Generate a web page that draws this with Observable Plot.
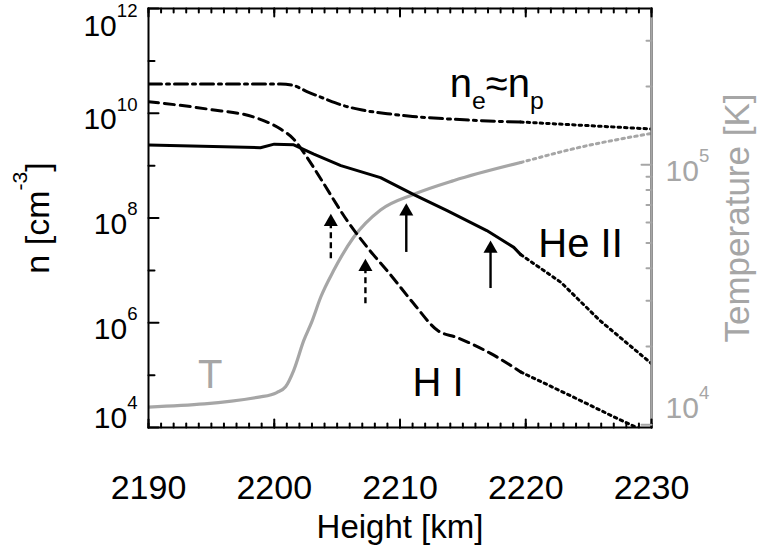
<!DOCTYPE html>
<html>
<head>
<meta charset="utf-8">
<script src="https://cdn.jsdelivr.net/npm/d3@7"></script>
<script src="https://cdn.jsdelivr.net/npm/@observablehq/plot@0.6"></script>
<style>
  body { margin: 0; background: #fff; }
  svg { display: block; }
</style>
</head>
<body>
<div id="chart"></div>
<script>
// ---------------- data ----------------
// electron density n_e ≈ n_p  [cm^-3]
const heightNe  = [2190, 2200.5, 2201.5, 2202.6, 2204, 2205.3, 2207, 2209, 2211, 2213.8, 2216.5, 2219.6, 2225, 2230];
const densityNe = [3.6e10, 3.6e10, 3.4e10, 2.6e10, 1.9e10, 1.45e10, 1.15e10, 9.8e9, 8.7e9, 7.8e9, 7.2e9, 6.8e9, 5.8e9, 5.0e9];
// neutral hydrogen H I
const heightHI  = [2190, 2194.7, 2198.6, 2200.5, 2201.55, 2202.6, 2203.8, 2205.8, 2207.4, 2209.2, 2211.1, 2213.0, 2214.55, 2217.2, 2219.6, 2223.6, 2227.5, 2230];
const densityHI = [1.66e10, 1.2e10, 8.1e9, 5.0e9, 3.2e9, 1.45e9, 5.1e8, 8.9e7, 2.75e7, 8.5e6, 2.3e6, 7.1e5, 5.2e5, 2.6e5, 1.15e5, 4.0e4, 1.4e4, 7.4e3];
// He II
const heightHeII  = [2190, 2198.9, 2200.0, 2201.55, 2203.15, 2205.3, 2208.45, 2211.1, 2213.75, 2216.9, 2219.05, 2219.6, 2222.8, 2225.9, 2230];
const densityHeII = [2.48e9, 2.2e9, 2.57e9, 2.5e9, 1.66e9, 1.0e9, 5.9e8, 2.8e8, 1.38e8, 5.75e7, 2.75e7, 2.0e7, 5.9e6, 1.1e6, 1.66e5];
// temperature [K]
const heightT     = [2190, 2198.9, 2200.2, 2200.9, 2201.55, 2202.35, 2203.0, 2203.7, 2204.7, 2206.3, 2208.45, 2211.1, 2214.3, 2219.6, 2224.4, 2230];
const temperature = [1.17e4, 1.28e4, 1.33e4, 1.40e4, 1.62e4, 2.11e4, 2.5e4, 3.1e4, 3.9e4, 5.25e4, 6.7e4, 7.7e4, 8.7e4, 1.02e5, 1.17e5, 1.32e5];
// model ends here: lines continue dotted beyond
const modelEnd = 2219.6;

// arrows (solid: He II, dashed: H I)
const arrowSolidHeight = [2210.5, 2217.2];
const arrowSolidTail   = [2.2e7, 4.5e6];
const arrowSolidTip    = [1.9e8, 3.7e7];
const arrowDashHeight  = [2204.5, 2207.25];
const arrowDashTail    = [1.66e7, 2.3e6];
const arrowDashTip     = [1.2e8, 1.66e7];

// labels inside the plot
const labelText    = ["n_{e}≈n_{p}", "He II", "H I"];
const labelHeight  = [2213.95, 2221.0, 2211.0];
const labelDensity = [2.0e10, 1.8e7, 4.07e4];
const labelTText = "T", labelTHeight = 2194.9, labelTTemp = 1.38e4;

// axes
const heightDomain = [2190, 2230];
const densityDomain = [1e4, 1e12];
const tempDomain = [9.76e3, 3.99e5];
const heightTicks = [2190, 2200, 2210, 2220, 2230];
const heightMinorTicks = d3.range(2190, 2231, 1);
const densityTicks = [1e4, 1e6, 1e8, 1e10, 1e12];
const densityTickLabels = ["10^{4}", "10^{6}", "10^{8}", "10^{10}", "10^{12}"];
const densityMinorTicks = [1e5, 1e7, 1e9, 1e11];
const tempTicks = [1e4, 1e5];
const tempTickLabels = ["10^{4}", "10^{5}"];
const tempMinorTicks = [2e4, 3e4, 4e4, 5e4, 6e4, 7e4, 8e4, 9e4, 2e5, 3e5];
const xTitle = "Height [km]", yTitle = "n [cm^{-3}]", y2Title = "Temperature [K]";

// ---------------- helpers ----------------
const gray = "#a6a6a6";
const L = Math.log10;
// map a temperature onto the density (left) log scale so it shares the frame
const tToN = T => 10 ** (L(densityDomain[0]) + (L(densityDomain[1]) - L(densityDomain[0])) * (L(T) - L(tempDomain[0])) / (L(tempDomain[1]) - L(tempDomain[0])));
const zip = (h, v) => h.map((x, i) => ({h: x, v: v[i]}));
const ne = zip(heightNe, densityNe), hi = zip(heightHI, densityHI), he = zip(heightHeII, densityHeII), tt = zip(heightT, temperature);
const inModel = d => d.filter(p => p.h <= modelEnd);
const beyond  = d => d.filter(p => p.h >= modelEnd);
const arrowsSolid = arrowSolidHeight.map((h, i) => ({h, tail: arrowSolidTail[i], tip: arrowSolidTip[i]}));
const arrowsDash  = arrowDashHeight.map((h, i) => ({h, tail: arrowDashTail[i], tip: arrowDashTip[i]}));
const labels = labelText.map((t, i) => ({t, h: labelHeight[i], n: labelDensity[i]}));
const dTicks = densityTicks.map((v, i) => ({v, label: densityTickLabels[i]}));
const tTicks = tempTicks.map((v, i) => ({v, label: tempTickLabels[i]}));
const tickShape = {draw(context, l) { context.moveTo(0, 0); context.lineTo(0, -l); }};
const dotted = "2.5,4";
const lw = 3;

const chart = Plot.plot({
  width: 763,
  height: 545,
  marginLeft: 148,
  marginRight: 112,
  marginTop: 8,
  marginBottom: 118,
  style: {fontFamily: "'Liberation Sans', Arial, Helvetica, sans-serif", background: "white", color: "black"},
  x: {domain: heightDomain, axis: null},
  y: {type: "log", domain: densityDomain, axis: null},
  marks: [
    // temperature
    Plot.line(inModel(tt), {x: "h", y: d => tToN(d.v), stroke: gray, strokeWidth: 3.2, curve: "monotone-x", clip: true}),
    Plot.line(beyond(tt), {x: "h", y: d => tToN(d.v), stroke: gray, strokeWidth: 3, strokeDasharray: dotted, curve: "monotone-x", clip: true}),
    // n_e
    Plot.line(inModel(ne), {x: "h", y: "v", stroke: "black", strokeWidth: lw, strokeDasharray: "13,5,3,5", curve: "monotone-x", clip: true}),
    Plot.line(beyond(ne), {x: "h", y: "v", stroke: "black", strokeWidth: lw, strokeDasharray: dotted, clip: true}),
    // H I
    Plot.line(inModel(hi), {x: "h", y: "v", stroke: "black", strokeWidth: lw, strokeDasharray: "10,6", curve: "monotone-x", clip: true}),
    Plot.line(beyond(hi), {x: "h", y: "v", stroke: "black", strokeWidth: lw, strokeDasharray: dotted, clip: true}),
    // He II
    Plot.line(inModel(he), {x: "h", y: "v", stroke: "black", strokeWidth: lw, clip: true}),
    Plot.line(beyond(he), {x: "h", y: "v", stroke: "black", strokeWidth: lw, strokeDasharray: dotted, clip: true}),
    // arrows
    Plot.ruleX(arrowsSolid, {x: "h", y1: "tip", y2: "tail", stroke: "black", strokeWidth: 2.4, insetTop: 9}),
    Plot.dot(arrowsSolid, {x: "h", y: "tip", symbol: "triangle", r: 5.2, fill: "black", stroke: null, dy: 8}),
    Plot.ruleX(arrowsDash, {x: "h", y1: "tip", y2: "tail", stroke: "black", strokeWidth: 2.4, strokeDasharray: "6,4", insetTop: 9}),
    Plot.dot(arrowsDash, {x: "h", y: "tip", symbol: "triangle", r: 5.2, fill: "black", stroke: null, dy: 8}),
    // labels
    Plot.text(labels, {x: "h", y: "n", text: "t", textAnchor: "start", lineAnchor: "bottom", fontSize: 40, fill: "black"}),
    Plot.text([labelTText], {x: () => labelTHeight, y: () => tToN(labelTTemp), text: d => d, textAnchor: "middle", lineAnchor: "bottom", fontSize: 40, fill: gray}),
    // frame
    Plot.frame({stroke: "black", strokeWidth: 2}),
    Plot.ruleX([heightDomain[1]], {stroke: gray, strokeWidth: 2}),
    // inward ticks: bottom / top
    Plot.vector(heightMinorTicks, {x: d => d, frameAnchor: "bottom", rotate: 0, length: 4, anchor: "start", shape: tickShape, stroke: "black", strokeWidth: 2}),
    Plot.vector(heightTicks, {x: d => d, frameAnchor: "bottom", rotate: 0, length: 8, anchor: "start", shape: tickShape, stroke: "black", strokeWidth: 2}),
    Plot.vector(heightMinorTicks, {x: d => d, frameAnchor: "top", rotate: 180, length: 4, anchor: "start", shape: tickShape, stroke: "black", strokeWidth: 2}),
    Plot.vector(heightTicks, {x: d => d, frameAnchor: "top", rotate: 180, length: 8, anchor: "start", shape: tickShape, stroke: "black", strokeWidth: 2}),
    // left ticks
    Plot.vector(densityTicks, {y: d => d, frameAnchor: "left", rotate: 90, length: 10, anchor: "start", shape: tickShape, stroke: "black", strokeWidth: 2}),
    Plot.vector(densityMinorTicks, {y: d => d, frameAnchor: "left", rotate: 90, length: 6, anchor: "start", shape: tickShape, stroke: "black", strokeWidth: 2}),
    // right (temperature) ticks
    Plot.vector(tempTicks, {y: d => tToN(d), frameAnchor: "right", rotate: -90, length: 10, anchor: "start", shape: tickShape, stroke: gray, strokeWidth: 2}),
    Plot.vector(tempMinorTicks, {y: d => tToN(d), frameAnchor: "right", rotate: -90, length: 5, anchor: "start", shape: tickShape, stroke: gray, strokeWidth: 2}),
    // x tick labels
    Plot.text(heightTicks, {x: d => d, text: d => String(d), frameAnchor: "bottom", textAnchor: "middle", lineAnchor: "top", dy: 47, fontSize: 34, fill: "black"}),
    // left tick labels
    Plot.text(dTicks.slice(1, -1), {y: "v", text: "label", frameAnchor: "left", textAnchor: "end", lineAnchor: "middle", dx: -11, dy: 6.4, fontSize: 30, fill: "black"}),
    Plot.text(dTicks.slice(-1), {y: "v", text: "label", frameAnchor: "left", textAnchor: "end", lineAnchor: "middle", dx: -11, dy: 17.4, fontSize: 30, fill: "black"}),
    Plot.text(dTicks.slice(0, 1), {y: "v", text: "label", frameAnchor: "left", textAnchor: "end", lineAnchor: "middle", dx: -11, dy: -9.6, fontSize: 30, fill: "black"}),
    // right tick labels
    Plot.text(tTicks.slice(1), {y: d => tToN(d.v), text: "label", frameAnchor: "right", textAnchor: "start", lineAnchor: "middle", dx: 14, dy: 6.4, fontSize: 30, fill: gray}),
    Plot.text(tTicks.slice(0, 1), {y: d => tToN(d.v), text: "label", frameAnchor: "right", textAnchor: "start", lineAnchor: "middle", dx: 14, dy: -16.6, fontSize: 30, fill: gray}),
    // axis titles
    Plot.text([xTitle], {frameAnchor: "bottom", textAnchor: "middle", lineAnchor: "bottom", dy: 110, fontSize: 33, fill: "black"}),
    Plot.text([yTitle], {frameAnchor: "left", textAnchor: "middle", rotate: -90, lineAnchor: "bottom", dx: -100, fontSize: 34, fill: "black"}),
    Plot.text([y2Title], {frameAnchor: "right", textAnchor: "middle", rotate: -90, lineAnchor: "bottom", dx: 97, fontSize: 35, fill: gray})
  ]
});

document.getElementById("chart").appendChild(chart);

// turn ^{..} and _{..} into real superscript / subscript tspans
function richify(svg) {
  const NS = "http://www.w3.org/2000/svg";
  svg.querySelectorAll("text").forEach(t => {
    const s = t.textContent;
    if (!/[\^_]\{/.test(s)) return;
    const fs = parseFloat(getComputedStyle(t).fontSize) || 30;
    while (t.firstChild) t.removeChild(t.firstChild);
    const re = /([\^_])\{([^}]*)\}/g;
    let last = 0, shift = 0, m;
    const add = (str, mode) => {
      const ts = document.createElementNS(NS, "tspan");
      ts.textContent = str;
      const target = mode === "sup" ? -0.62 * fs : mode === "sub" ? 0.3 * fs : 0;
      const d = target - shift;
      if (d !== 0) ts.setAttribute("dy", d.toFixed(2));
      if (mode) ts.setAttribute("font-size", (0.62 * fs).toFixed(2));
      shift = target;
      t.appendChild(ts);
    };
    while ((m = re.exec(s))) {
      if (m.index > last) add(s.slice(last, m.index), null);
      add(m[2], m[1] === "^" ? "sup" : "sub");
      last = re.lastIndex;
    }
    if (last < s.length) add(s.slice(last), null);
  });
}
richify(chart);
</script>
</body>
</html>
